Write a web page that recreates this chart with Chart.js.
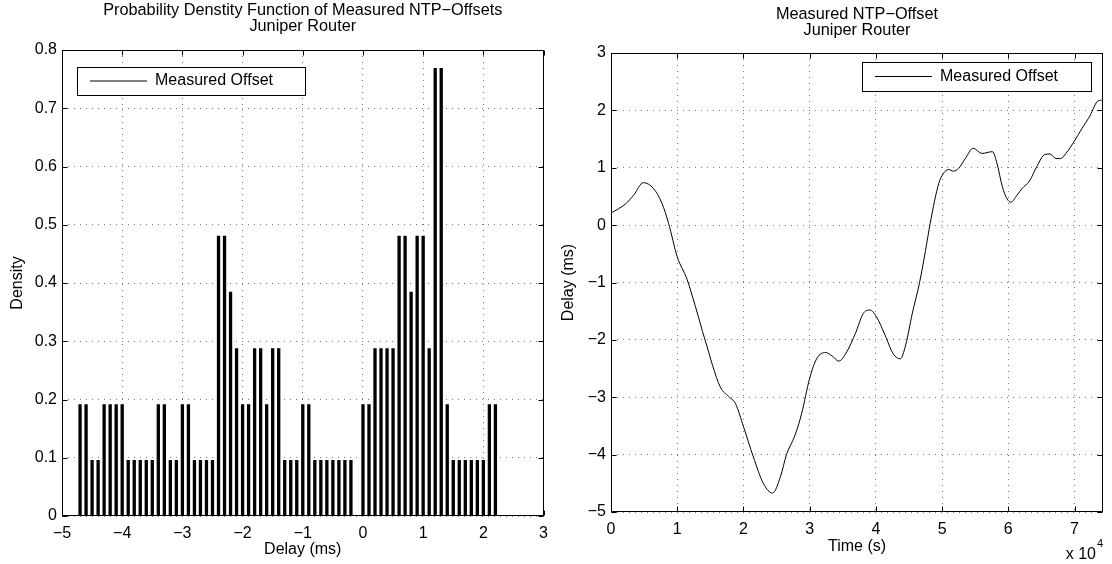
<!DOCTYPE html>
<html>
<head>
<meta charset="utf-8">
<script src="https://cdn.jsdelivr.net/npm/chart.js@4.4.1/dist/chart.umd.min.js"></script>
<style>
  html, body { margin: 0; padding: 0; background: #fff; }
  #wrap { position: relative; width: 1112px; height: 564px; }
  canvas { position: absolute; top: 0; }
  #pdfChart { left: 0; }
  #offsetChart { left: 550px; }
</style>
</head>
<body>
<div id="wrap">
  <canvas id="pdfChart" width="556" height="564"></canvas>
  <canvas id="offsetChart" width="562" height="564"></canvas>
</div>
<script>
// Histogram: bin centres (ms) and density per bin
const binCenters = [
  -4.7, -4.6, -4.5, -4.4, -4.3, -4.2, -4.1, -4.0, -3.9, -3.8,
  -3.7, -3.6, -3.5, -3.4, -3.3, -3.2, -3.1, -3.0, -2.9, -2.8,
  -2.7, -2.6, -2.5, -2.4, -2.3, -2.2, -2.1, -2.0, -1.9, -1.8,
  -1.7, -1.6, -1.5, -1.4, -1.3, -1.2, -1.1, -1.0, -0.9, -0.8,
  -0.7, -0.6, -0.5, -0.4, -0.3, -0.2, -0.1, 0.0, 0.1, 0.2,
  0.3, 0.4, 0.5, 0.6, 0.7, 0.8, 0.9, 1.0, 1.1, 1.2,
  1.3, 1.4, 1.5, 1.6, 1.7, 1.8, 1.9, 2.0, 2.1, 2.2
];
const densities = [
  0.192, 0.192, 0.096, 0.096, 0.192, 0.192, 0.192, 0.192, 0.096, 0.096,
  0.096, 0.096, 0.096, 0.192, 0.192, 0.096, 0.096, 0.192, 0.192, 0.096,
  0.096, 0.096, 0.096, 0.481, 0.481, 0.385, 0.288, 0.192, 0.192, 0.288,
  0.288, 0.192, 0.288, 0.288, 0.096, 0.096, 0.096, 0.192, 0.192, 0.096,
  0.096, 0.096, 0.096, 0.096, 0.096, 0.096, 0, 0.192, 0.192, 0.288,
  0.288, 0.288, 0.288, 0.481, 0.481, 0.385, 0.481, 0.481, 0.288, 0.769,
  0.769, 0.192, 0.096, 0.096, 0.096, 0.096, 0.096, 0.096, 0.192, 0.192
];

// Offset over time: time (s) and offset (ms)
const timeSec = [
  0, 2200, 3400, 4900, 6400, 7700, 8700, 10000, 11500, 12700,
  14200, 16500, 17800, 18800, 20000, 21500, 23000, 24400, 25600, 26500,
  27800, 28800, 30000, 31100, 32400, 33400, 34400, 35600, 36900, 38100,
  39100, 40100, 41400, 42600, 43700, 44500, 45500, 46600, 47500, 48200,
  49500, 50200, 51000, 51700, 52500, 53500, 54700, 56000, 57600, 58300,
  59100, 59800, 60400, 61300, 62100, 63200, 64300, 65500, 66300, 67200,
  67900, 68700, 69900, 71100, 72400, 73400, 74100
];
const offsetMs = [
  0.21, 0.37, 0.52, 0.74, 0.64, 0.38, 0.03, -0.55, -0.95, -1.4,
  -2.0, -2.82, -2.99, -3.11, -3.51, -4.04, -4.5, -4.67, -4.38, -4.0,
  -3.66, -3.28, -2.67, -2.32, -2.22, -2.28, -2.37, -2.21, -1.89, -1.54,
  -1.48, -1.6, -1.92, -2.24, -2.33, -2.09, -1.54, -1.0, -0.44, 0.03,
  0.73, 0.9, 0.97, 0.94, 0.99, 1.16, 1.34, 1.25, 1.28, 1.07,
  0.67, 0.46, 0.4, 0.52, 0.64, 0.77, 1.02, 1.23, 1.24, 1.16,
  1.16, 1.25, 1.45, 1.68, 1.92, 2.15, 2.18
];

// Tick values
const delayTicks = [-5, -4, -3, -2, -1, 0, 1, 2, 3];
const densityTicks = [0, 0.1, 0.2, 0.3, 0.4, 0.5, 0.6, 0.7, 0.8];
const timeTicks = [0, 10000, 20000, 30000, 40000, 50000, 60000, 70000];
const offsetTicks = [-5, -4, -3, -2, -1, 0, 1, 2, 3];

const FONT = '"Liberation Sans", Arial, Helvetica, sans-serif';
Chart.defaults.font.family = FONT;
Chart.defaults.font.size = 16;
Chart.defaults.color = '#000';

const minus = v => String(v).replace('-', '\u2212');
const fixedTicks = values => scale => { scale.ticks = values.map(v => ({ value: v })); };

// MATLAB-like box: frame, inward ticks, title, legend box
const matlabFrame = {
  id: 'matlabFrame',
  afterDraw(chart, args, opts) {
    const {ctx, chartArea: a} = chart;
    const xs = chart.scales.x, ys = chart.scales.y;
    const L = Math.round(a.left) + 0.5, R = Math.round(a.right) - 0.5;
    const T = Math.round(a.top) + 0.5, B = Math.round(a.bottom) - 0.5;
    ctx.save();
    ctx.strokeStyle = '#000';
    ctx.lineWidth = 1;

    ctx.beginPath();
    xs.ticks.forEach(t => {
      const px = Math.round(xs.getPixelForValue(t.value)) + 0.5;
      ctx.moveTo(px, B); ctx.lineTo(px, B - 5);
      ctx.moveTo(px, T); ctx.lineTo(px, T + 5);
    });
    ys.ticks.forEach(t => {
      const py = Math.round(ys.getPixelForValue(t.value)) + 0.5;
      ctx.moveTo(L, py); ctx.lineTo(L + 5, py);
      ctx.moveTo(R, py); ctx.lineTo(R - 5, py);
    });
    ctx.stroke();
    ctx.strokeRect(L, T, R - L, B - T);

    // title
    ctx.fillStyle = '#000';
    ctx.font = '16.3px ' + FONT;
    ctx.textAlign = 'center';
    ctx.textBaseline = 'middle';
    const cx = (a.left + a.right) / 2;
    opts.title.forEach((line, i) => ctx.fillText(line, cx, opts.titleY[i]));

    // legend
    ctx.font = '16px ' + FONT;
    const lg = opts.legend;
    const mid = lg.y + lg.h / 2;
    ctx.fillStyle = '#fff';
    ctx.fillRect(lg.x, lg.y, lg.w, lg.h);
    ctx.strokeRect(lg.x + 0.5, lg.y + 0.5, lg.w, lg.h);
    ctx.beginPath();
    ctx.moveTo(lg.x + 13, mid);
    ctx.lineTo(lg.x + 70, mid);
    ctx.stroke();
    ctx.fillStyle = '#000';
    ctx.textAlign = 'left';
    ctx.fillText(chart.data.datasets[0].label, lg.x + 78, mid);

    // axis exponent
    if (opts.exponent) {
      const e = opts.exponent;
      ctx.textAlign = 'right';
      ctx.fillText('x 10', e.x, e.y);
      ctx.font = '11px ' + FONT;
      ctx.textAlign = 'left';
      ctx.fillText(e.power, e.x + 1, e.y - 11);
    }
    ctx.restore();
  }
};

const gridStyle = { color: '#777', lineWidth: 1, drawTicks: false };
const borderStyle = { display: false, dash: [1, 5] };

// Probability density histogram
new Chart(document.getElementById('pdfChart'), {
  type: 'bar',
  data: {
    datasets: [{
      label: 'Measured Offset',
      data: binCenters.map((c, i) => ({ x: c, y: densities[i] })),
      backgroundColor: '#000',
      borderWidth: 0,
      barPercentage: 0.55,
      categoryPercentage: 1
    }]
  },
  options: {
    responsive: false,
    animation: false,
    layout: { padding: { top: 50, right: 11, bottom: 0, left: 0 } },
    plugins: {
      legend: { display: false },
      tooltip: { enabled: false },
      matlabFrame: {
        title: ['Probability Denstity Function of Measured NTP\u2212Offsets', 'Juniper Router'],
        titleY: [11, 27],
        legend: { x: 77, y: 67, w: 228, h: 28 }
      }
    },
    scales: {
      x: {
        type: 'linear',
        min: -5, max: 3,
        offset: false,
        grid: { ...gridStyle, offset: false },
        border: borderStyle,
        afterBuildTicks: fixedTicks(delayTicks),
        ticks: { padding: 8, maxRotation: 0, callback: v => minus(v) },
        title: { display: true, text: 'Delay (ms)', padding: { top: 0, bottom: 5 } },
        afterFit: s => { s.height = 48; }
      },
      y: {
        min: 0, max: 0.8,
        grid: gridStyle,
        border: borderStyle,
        afterBuildTicks: fixedTicks(densityTicks),
        ticks: { padding: 5, callback: v => v === 0 ? '0' : v.toFixed(1) },
        title: { display: true, text: 'Density', padding: { top: 8, bottom: 0 } },
        afterFit: s => { s.width = 62; }
      }
    }
  },
  plugins: [matlabFrame]
});

// Offset over time
new Chart(document.getElementById('offsetChart'), {
  type: 'line',
  data: {
    datasets: [{
      label: 'Measured Offset',
      data: timeSec.map((t, i) => ({ x: t, y: offsetMs[i] })),
      borderColor: '#000',
      borderWidth: 1,
      pointRadius: 0,
      fill: false,
      cubicInterpolationMode: 'monotone'
    }]
  },
  options: {
    responsive: false,
    animation: false,
    layout: { padding: { top: 53, right: 9, bottom: 0, left: 0 } },
    plugins: {
      legend: { display: false },
      tooltip: { enabled: false },
      matlabFrame: {
        title: ['Measured NTP\u2212Offset', 'Juniper Router'],
        titleY: [15, 31],
        legend: { x: 312, y: 62, w: 229, h: 29 },
        exponent: { x: 546, y: 555, power: '4' }
      }
    },
    scales: {
      x: {
        type: 'linear',
        min: 0, max: 74300,
        grid: gridStyle,
        border: borderStyle,
        afterBuildTicks: fixedTicks(timeTicks),
        ticks: { padding: 8, maxRotation: 0, callback: v => String(v / 10000) },
        title: { display: true, text: 'Time (s)', padding: { top: 0, bottom: 8 } },
        afterFit: s => { s.height = 52; }
      },
      y: {
        min: -5, max: 3,
        grid: gridStyle,
        border: borderStyle,
        afterBuildTicks: fixedTicks(offsetTicks),
        ticks: { padding: 5, callback: v => minus(v) },
        title: { display: true, text: 'Delay (ms)', padding: { top: 9, bottom: 0 } },
        afterFit: s => { s.width = 61; }
      }
    }
  },
  plugins: [matlabFrame]
});
</script>
</body>
</html>
